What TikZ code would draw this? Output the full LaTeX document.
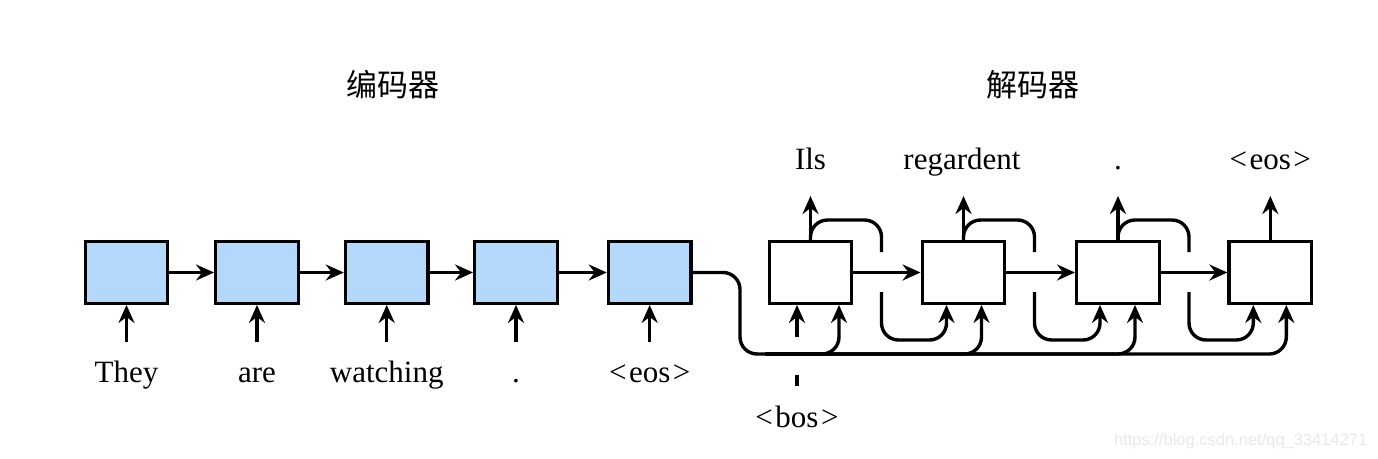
\documentclass[tikz,border=0pt]{standalone}
\usepackage{fontspec}
\setmainfont{Liberation Serif}
\newfontfamily\cjk{Noto Sans CJK SC}
\newfontfamily\wmfont{Liberation Sans}
\usetikzlibrary{arrows.meta}
\definecolor{encblue}{RGB}{179,216,251}
\newcommand{\lt}{<\kern2.5pt}
\newcommand{\gt}{\kern2.5pt>}
\begin{document}
\begin{tikzpicture}[x=1pt,y=-1pt,line width=3.4pt,
  box/.style={draw,line width=3.4pt,minimum width=82.5pt,minimum height=61.5pt,inner sep=0pt},
  enc/.style={box,fill=encblue},
  dec/.style={box,fill=white},
  arr/.style={-{Stealth[length=18pt,width=16pt,inset=6pt]}},
  lbl/.style={font=\fontsize{31}{36}\selectfont,anchor=base,inner sep=0pt},
  ttl/.style={font=\cjk\fontsize{31}{36}\selectfont,inner sep=0pt},
  rc/.style={rounded corners=17pt}]
\useasboundingbox (0,0) rectangle (1378,458);

% titles
\node[ttl] (h1) at (393.3,85) {编码器};
\node[ttl] (h2) at (1032.5,85) {解码器};

% encoder
\node[enc] (e1) at (126.5,272.5) {};
\node[enc] (e2) at (257,272.5) {};
\node[enc] (e3) at (386.7,272.5) {};
\node[enc] (e4) at (516,272.5) {};
\node[enc] (e5) at (649.7,272.5) {};
\draw[arr] (e1) -- (e2);
\draw[arr] (e2) -- (e3);
\draw[arr] (e3) -- (e4);
\draw[arr] (e4) -- (e5);

\coordinate (ei1) at (126.5,342);
\coordinate (ei2) at (257,342);
\coordinate (ei3) at (386.7,342);
\coordinate (ei4) at (516,342);
\coordinate (ei5) at (649.7,342);
\draw[arr] (ei1) -- (e1.south);
\draw[arr] (ei2) -- (e2.south);
\draw[arr] (ei3) -- (e3.south);
\draw[arr] (ei4) -- (e4.south);
\draw[arr] (ei5) -- (e5.south);

\node[lbl] (t1) at (126.5,382) {They};
\node[lbl] (t2) at (257,382) {are};
\node[lbl] (t3) at (386.7,382) {watching};
\node[lbl] (t4) at (516,382) {.};
\node[lbl] (t5) at (649.7,382) {\lt eos\gt};

% decoder
\node[dec] (d1) at (810.5,272.5) {};
\node[dec] (d2) at (963.5,272.5) {};
\node[dec] (d3) at (1118,272.5) {};
\node[dec] (d4) at (1270.3,272.5) {};
\draw[arr] (d1) -- (d2);
\draw[arr] (d2) -- (d3);
\draw[arr] (d3) -- (d4);

% outputs
\coordinate (o1) at (810.5,196);
\coordinate (o2) at (963.5,196);
\coordinate (o3) at (1118,196);
\coordinate (o4) at (1270.3,196);
\draw[arr] (d1.north) -- (o1);
\draw[arr] (d2.north) -- (o2);
\draw[arr] (d3.north) -- (o3);
\draw[arr] (d4.north) -- (o4);
\node[lbl] (y1) at (810.5,169.5) {Ils};
\node[lbl] (y2) at (962,169.5) {regardent};
\node[lbl] (y3) at (1118,169.5) {.};
\node[lbl] (y4) at (1270.3,169.5) {\lt eos\gt};

% feedback loops
\coordinate (lt1) at (881.5,220);  \coordinate (lm1) at (881.5,252);
\coordinate (lb1) at (881.5,292);  \coordinate (lc1) at (881.5,340);
\coordinate (lt2) at (1034.5,220); \coordinate (lm2) at (1034.5,252);
\coordinate (lb2) at (1034.5,292); \coordinate (lc2) at (1034.5,340);
\coordinate (lt3) at (1189,220);   \coordinate (lm3) at (1189,252);
\coordinate (lb3) at (1189,292);   \coordinate (lc3) at (1189,340);
\draw[rc] (d1.north) |- (lt1) -- (lm1);
\draw[rc,arr] (lb1) -- (lc1) -| ([xshift=-17pt]d2.south);
\draw[rc] (d2.north) |- (lt2) -- (lm2);
\draw[rc,arr] (lb2) -- (lc2) -| ([xshift=-18pt]d3.south);
\draw[rc] (d3.north) |- (lt3) -- (lm3);
\draw[rc,arr] (lb3) -- (lc3) -| ([xshift=-17pt]d4.south);

% bos input
\coordinate (bs) at (797,337);
\coordinate (bt1) at (797,375);
\coordinate (bt2) at (797,386);
\draw[arr] (bs) -- ([xshift=-13.5pt]d1.south);
\draw (bt1) -- (bt2);
\node[lbl] (bos) at (797,427) {\lt bos\gt};

% context
\coordinate (k1) at (740,272.5);
\coordinate (k2) at (740,354);
\coordinate (k2b) at (765,354);
\draw[rc,arr] (e5.east) -- (k1) -- (k2) -| ([xshift=16pt]d4.south);
\draw[rc,arr] (k2b) -| ([xshift=28.5pt]d1.south);
\draw[rc,arr] (k2b) -| ([xshift=18pt]d2.south);
\draw[rc,arr] (k2b) -| ([xshift=17pt]d3.south);

% watermark
\node[font=\wmfont\fontsize{16.5}{18}\selectfont,text=black!9,anchor=base east,inner sep=0pt] (wm) at (1369,445) {https://blog.csdn.net/qq\_33414271};
\end{tikzpicture}
\end{document}
